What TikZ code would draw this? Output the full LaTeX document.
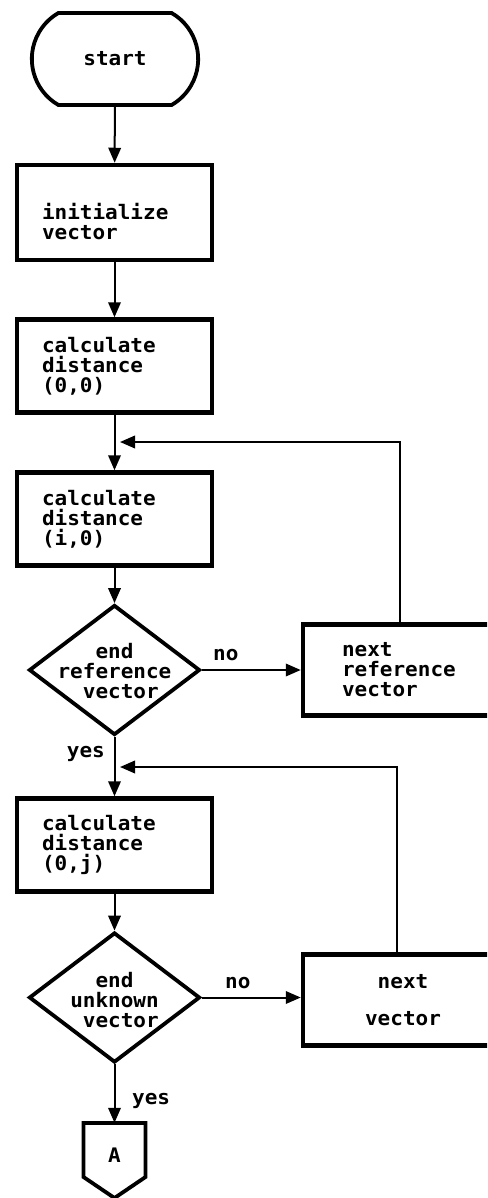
\documentclass[tikz,border=0pt]{standalone}
\usepackage{fontspec}
\setmonofont{DejaVu Sans Mono}[FakeStretch=1.05]
\usetikzlibrary{arrows.meta,shapes.geometric,shapes.misc}

\begin{document}
\begin{tikzpicture}[x=1pt,y=-1pt,
  every node/.style={font=\ttfamily\bfseries\fontsize{20}{20}\selectfont},
  flow/.style={line width=2pt,-{Triangle[length=15pt,width=12.5pt]}},
  terminal/.style={draw,rounded rectangle,rounded rectangle arc length=120,line width=3.8pt,minimum width=173pt,minimum height=92pt},
  procbox/.style={draw,line width=4.5pt,minimum width=195pt,minimum height=93pt,text width=145pt,inner xsep=25pt,align=left},
  decision/.style={draw,diamond,line width=3.8pt,minimum width=171pt,minimum height=130pt,inner sep=0pt},
  sidebox/.style={draw,line width=4.5pt,minimum width=200pt,minimum height=91pt,text width=122pt,inner xsep=39pt,align=left},
  lbl/.style={inner sep=0pt}
]
\useasboundingbox (0,0) rectangle (487,1198);
\clip (0,0) rectangle (487,1198);

% main column
\node[terminal] (start) at (115,59) {start};
\node[procbox,minimum height=95pt,text height=39pt,text depth=24pt] (init) at (114.5,212.5) {initialize\\vector};
\node[procbox] (c00) at (114.5,366) {calculate\\distance\\(0,0)};
\node[procbox] (ci0) at (114.5,519) {calculate\\distance\\(i,0)};
\node[decision] (d1) at (114.5,670) {};
\node[lbl,align=center] (d1t) at (114.5,671) {end\\reference\\\hphantom{v}vector};
\node[procbox] (c0j) at (114.5,845) {calculate\\distance\\(0,j)};
\node[decision] (d2) at (114.5,997.5) {};
\node[lbl,align=center] (d2t) at (114.5,1000) {end\\unknown\\\hphantom{v}vector};
\node[lbl,minimum width=62pt,minimum height=64pt] (A) at (114.5,1155) {A};
\draw[line width=3.8pt,line join=miter] (83.5,1123) -- (145.5,1123) -- (145.5,1177) -- (114.5,1198) -- (83.5,1177) -- cycle;

% side boxes
\node[sidebox] (nrv) at (403,670) {next\\reference\\vector};
\node[sidebox,align=center] (nv) at (403,1000) {next\\[17pt]vector};

% join points of the loops
\coordinate (j1) at (120,442);
\coordinate (j2) at (120,767);

% connectors
\draw[flow] (start) -- (init);
\draw[flow] (init) -- (c00);
\draw[flow] (c00) -- (ci0);
\draw[flow] (ci0) -- (d1);
\draw[flow] (d1) -- (c0j);
\draw[flow] (c0j) -- (d2);
\draw[flow] (d2) -- (A);
\draw[flow] (d1.east) -- (nrv.west);
\draw[flow] (d2.east) -- (nv.west |- d2.east);
\draw[flow] ([xshift=-3pt]nrv.north) |- (j1);
\draw[flow] ([xshift=-6pt]nv.north) |- (j2);

% labels
\node[lbl,anchor=base west] (no1) at (213,660) {no};
\node[lbl,anchor=base west] (no2) at (225,988) {no};
\node[lbl,anchor=base east] (yes1) at (105,757) {yes};
\node[lbl,anchor=base west] (yes2) at (132,1104) {yes};
\end{tikzpicture}
\end{document}
